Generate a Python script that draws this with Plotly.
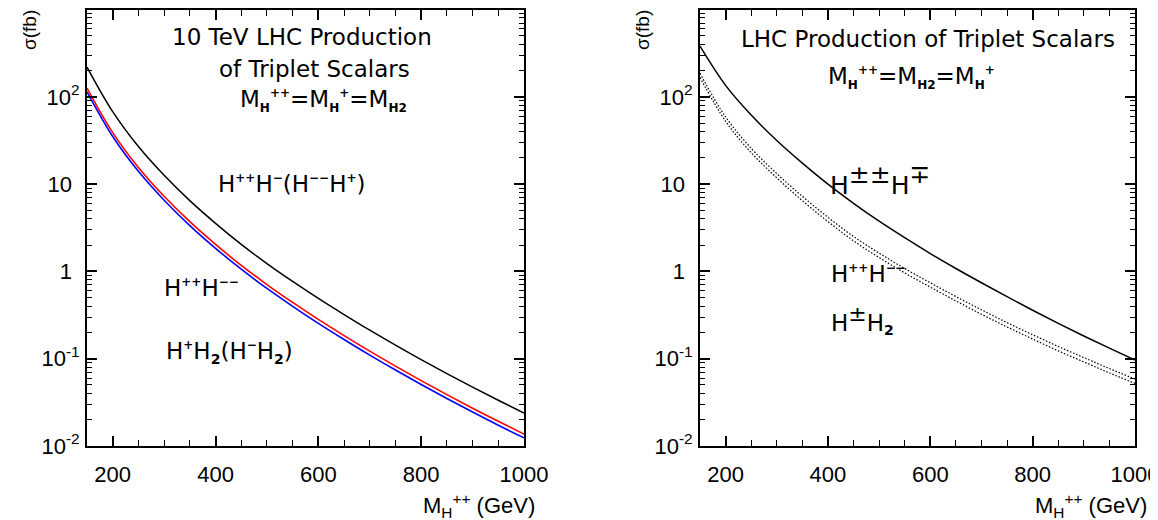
import plotly.graph_objects as go

# ---------------- data (cross sections in fb) ----------------
mass = [150, 200, 250, 300, 350, 400, 450, 500, 550, 600, 650, 700,
        750, 800, 850, 900, 950, 1000]

# Left panel: 10 TeV LHC
sig10_HppHm = [219, 67.6, 26.9, 12.6, 6.46, 3.55, 2.04, 1.23, 0.767, 0.490,
               0.320, 0.212, 0.143, 0.0975, 0.0675, 0.0472, 0.0334, 0.0239]
sig10_HppHmm = [126, 38.9, 15.5, 7.25, 3.71, 2.04, 1.17, 0.707, 0.441, 0.282,
                0.184, 0.122, 0.0822, 0.0561, 0.0388, 0.0271, 0.0192, 0.0137]
sig10_HpH2 = [114, 35.1, 14.0, 6.54, 3.35, 1.84, 1.06, 0.638, 0.398, 0.254,
              0.166, 0.110, 0.0742, 0.0506, 0.0350, 0.0245, 0.0173, 0.0124]

# Right panel: LHC
sig14_HppHm = [380, 135, 61.7, 31.6, 17.4, 10.0, 6.03, 3.76, 2.43, 1.60,
               1.08, 0.741, 0.513, 0.359, 0.254, 0.182, 0.132, 0.0966]
sig14_HppHmm = [186, 58.9, 25.7, 13.2, 7.24, 4.17, 2.51, 1.62, 1.08, 0.741,
                0.515, 0.363, 0.259, 0.188, 0.138, 0.103, 0.0771, 0.0585]
sig14_HpmH2 = [166, 52.5, 22.9, 11.8, 6.45, 3.72, 2.24, 1.44, 0.962, 0.660,
               0.459, 0.323, 0.231, 0.168, 0.123, 0.0918, 0.0687, 0.0521]

x_ticks = [200, 400, 600, 800, 1000]
x_ticktext = ["200", "400", "600", "800", "1000"]
y_ticks = [0.01, 0.1, 1, 10, 100]
y_ticktext = ["10<sup>-2</sup>", "10<sup>-1</sup>", "1<sup>\u2002</sup>",
              "10<sup>\u2002</sup>", "10<sup>2</sup>"]

# ---------------- figure ----------------
W, H = 1158, 520
fig = go.Figure()

def line(x, y, color, width, dash, xa, ya, name):
    fig.add_trace(go.Scatter(x=x, y=y, mode="lines", name=name,
                             line=dict(color=color, width=width, dash=dash,
                                       shape="spline", smoothing=1.0),
                             xaxis=xa, yaxis=ya, showlegend=False,
                             hoverinfo="skip"))

line(mass, sig10_HppHm, "black", 1.5, "solid", "x", "y", "H++H-")
line(mass, sig10_HppHmm, "#ff0000", 1.6, "solid", "x", "y", "H++H--")
line(mass, sig10_HpH2, "#0000ff", 1.6, "solid", "x", "y", "H+H2")

line(mass, sig14_HppHm, "black", 1.5, "solid", "x2", "y2", "H±±H∓")
line(mass, sig14_HppHmm, "black", 1.2, "1.5px,1.8px", "x2", "y2", "H++H--")
line(mass, sig14_HpmH2, "black", 1.2, "1.5px,1.8px", "x2", "y2", "H±H2")

x_minor = [v for v in range(150, 1001, 50) if v not in x_ticks]
y_minor = [m * 10 ** e for e in range(-2, 3) for m in range(2, 10)]

tickfont = dict(family="Liberation Sans, Arial, sans-serif", size=22, color="black")

def xaxis(domain, anchor):
    return dict(domain=domain, anchor=anchor, range=[150, 1000],
                showline=True, linecolor="black", linewidth=2, mirror="ticks",
                ticks="inside", ticklen=10, tickwidth=1.5, tickcolor="black",
                tickmode="array", tickvals=x_ticks, ticktext=x_ticktext,
                tickfont=tickfont, ticklabelstandoff=8,
                showgrid=False, zeroline=False, automargin=False,
                minor=dict(ticks="inside", ticklen=6, tickwidth=1.2,
                           tickcolor="black", tickmode="array",
                           tickvals=x_minor, showgrid=False))

def yaxis(anchor):
    return dict(domain=[1 - 438 / H, 1 - 1.5 / H], anchor=anchor,
                type="log", range=[-2, 3],
                showline=True, linecolor="black", linewidth=2, mirror="ticks",
                ticks="inside", ticklen=10, tickwidth=1.5, tickcolor="black",
                tickmode="array", tickvals=y_ticks, ticktext=y_ticktext,
                tickfont=tickfont, ticklabelstandoff=1,
                showgrid=False, zeroline=False, automargin=False,
                minor=dict(ticks="inside", ticklen=5, tickwidth=1.2,
                           tickcolor="black", tickmode="array",
                           tickvals=y_minor, showgrid=False))

fig.update_layout(
    width=W, height=H,
    margin=dict(l=0, r=0, t=0, b=0),
    paper_bgcolor="white", plot_bgcolor="white",
    xaxis=xaxis([79 / W, 516 / W], "y"),
    yaxis=yaxis("x"),
    xaxis2=xaxis([692 / W, 1127 / W], "y2"),
    yaxis2=yaxis("x2"),
)

txtfont = "DejaVu Sans, sans-serif"

def ann(text, px, py, size, xanchor="center", yanchor="middle", angle=0,
        family=txtfont):
    fig.add_annotation(text=text, x=px / W, y=1 - py / H, xref="paper",
                       yref="paper", xanchor=xanchor, yanchor=yanchor,
                       showarrow=False, textangle=angle,
                       font=dict(family=family, size=size, color="black"))

def sm(t, size=12):
    return "<span style='font-size:%dpx'><b>%s</b></span>" % (size, t)

axfont = "Liberation Sans, Arial, sans-serif"
# axis titles
ann("σ(fb)", 21, 0, 19, yanchor="top", angle=-90, family=axfont)
ann("σ(fb)", 634, 0, 19, yanchor="top", angle=-90, family=axfont)
ann("M<sub>H</sub><sup>++</sup> (GeV)", 529, 497, 22, xanchor="right", family=axfont)
ann("M<sub>H</sub><sup>++</sup> (GeV)", 1141, 497, 22, xanchor="right", family=axfont)

MH = "M<sub>" + sm("H") + "</sub>"
MH2 = "M<sub>" + sm("H2") + "</sub>"

# left panel texts
ann("10 TeV LHC Production", 294, 29, 23)
ann("of Triplet Scalars", 306, 61, 23)
ann(MH + "<sup>" + sm("++") + "</sup>=" + MH + "<sup>" + sm("+") + "</sup>=" + MH2,
    315, 92, 23)
ann("H<sup>" + sm("++") + "</sup>H<sup>" + sm("−") + "</sup>(H<sup>" + sm("−−")
    + "</sup>H<sup>" + sm("+") + "</sup>)", 284, 176, 23)
ann("H<sup>" + sm("++") + "</sup>H<sup>" + sm("−−") + "</sup>", 193, 280, 23)
ann("H<sup>" + sm("+") + "</sup>H<sub>" + sm("2", 14) + "</sub>(H<sup>" + sm("−")
    + "</sup>H<sub>" + sm("2", 14) + "</sub>)", 221, 344, 23)

# right panel texts
ann("LHC Production of Triplet Scalars", 920, 31, 23)
ann(MH + "<sup>" + sm("++") + "</sup>=" + MH2 + "=" + MH + "<sup>" + sm("+") + "</sup>",
    903, 70, 23)
ann("H<sup><span style='font-size:25px'>±±</span></sup>H<sup>"
    "<span style='font-size:25px'>∓</span></sup>", 872, 172, 25)
ann("H<sup>" + sm("++") + "</sup>H<sup>" + sm("−−") + "</sup>", 860, 266, 23)
ann("H<sup><span style='font-size:22px'>±</span></sup>H<sub>" + sm("2", 14) + "</sub>",
    854, 311, 23)

fig.write_html("out.html")
